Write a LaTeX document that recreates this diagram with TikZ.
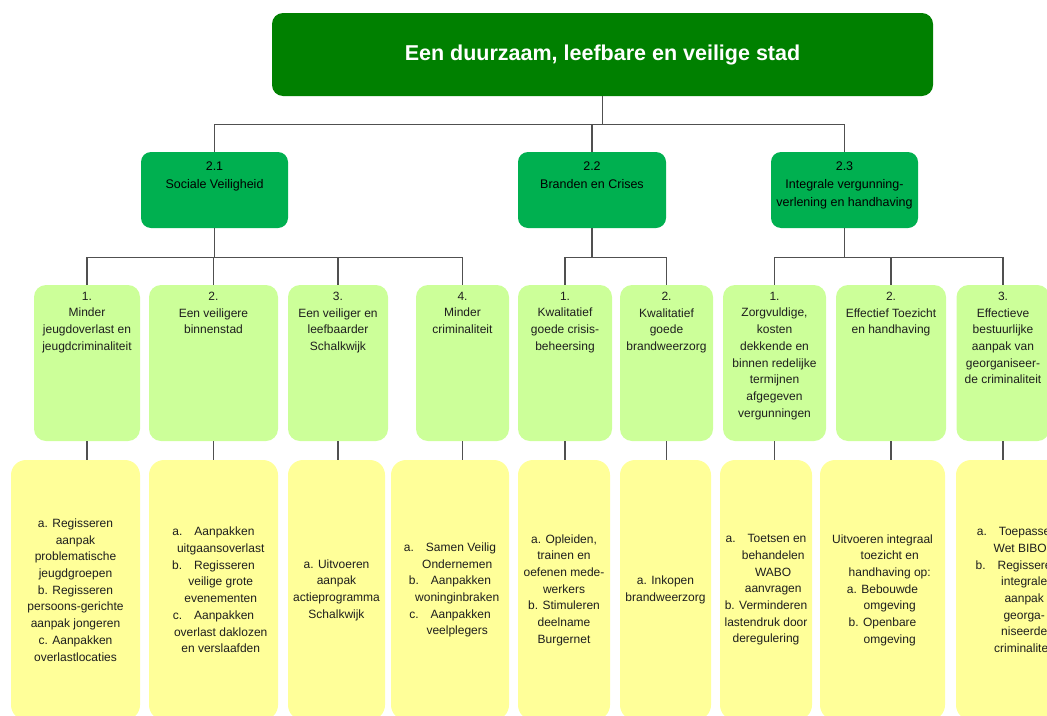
\documentclass[tikz,border=0pt]{standalone}
\usepackage{fontspec}
\setmainfont{Liberation Sans}
\usetikzlibrary{positioning}
\definecolor{topgreen}{HTML}{008000}
\definecolor{midgreen}{HTML}{00B050}
\definecolor{lightgreen}{HTML}{CCFF99}
\definecolor{lightyellow}{HTML}{FFFF99}
\definecolor{linegray}{HTML}{505050}
\definecolor{txtgray}{HTML}{1E1E1E}

\begin{document}
\begin{tikzpicture}[x=1pt,y=-1pt,
  goal/.style={rectangle,rounded corners=11pt,fill=topgreen,text=white,font=\bfseries\fontsize{21.5}{25}\selectfont},
  theme/.style={rectangle,rounded corners=10pt,fill=midgreen,minimum height=76pt},
  target/.style={rectangle,rounded corners=12pt,fill=lightgreen,minimum height=156pt},
  action/.style={rectangle,rounded corners=15pt,fill=lightyellow,minimum height=260pt,inner sep=0pt,
    align=center,text=txtgray,font=\fontsize{12}{16.7}\selectfont},
  txt/.style={inner sep=0pt,align=center,text=txtgray,font=\fontsize{12}{16.7}\selectfont},
  link/.style={draw=linegray,line width=1.4pt}]
\useasboundingbox (0,0) rectangle (1047,715);
\clip (0,0) rectangle (1047,715);

\path (602.5,54.5) node[goal,minimum width=661pt,minimum height=83pt] (top) {Een duurzaam, leefbare en veilige stad};

\path (214.5,190) node[theme,minimum width=147pt] (s21) {};
\path (s21.north) node[below=10pt of s21.north,txt,text=black,font=\fontsize{12.5}{18}\selectfont] (t21) {2.1\\Sociale Veiligheid};
\path (592,190) node[theme,minimum width=148pt] (s22) {};
\path (s22.north) node[below=10pt of s22.north,txt,text=black,font=\fontsize{12.5}{18}\selectfont] (t22) {2.2\\Branden en Crises};
\path (844.5,190) node[theme,minimum width=147pt] (s23) {};
\path (s23.north) node[below=10pt of s23.north,txt,text=black,font=\fontsize{12.5}{18}\selectfont] (t23) {2.3\\Integrale vergunning-\\verlening en handhaving};

\path (87,363) node[target,minimum width=106pt] (d1) {};
\path (d1.north) node[below=7pt of d1.north,txt] (td1) {1.\\Minder\\jeugdoverlast en\\jeugdcriminaliteit};
\path (213.5,363) node[target,minimum width=129pt] (d2) {};
\path (d2.north) node[below=7pt of d2.north,txt] (td2) {2.\\Een veiligere\\binnenstad};
\path (338,363) node[target,minimum width=100pt] (d3) {};
\path (d3.north) node[below=7pt of d3.north,txt] (td3) {3.\\Een veiliger en\\leefbaarder\\Schalkwijk};
\path (462.5,363) node[target,minimum width=93pt] (d4) {};
\path (d4.north) node[below=7pt of d4.north,txt] (td4) {4.\\Minder\\criminaliteit};
\path (565,363) node[target,minimum width=94pt] (k1) {};
\path (k1.north) node[below=7pt of k1.north,txt] (tk1) {1.\\Kwalitatief\\goede crisis-\\beheersing};
\path (666.5,363) node[target,minimum width=93pt] (k2) {};
\path (k2.north) node[below=7pt of k2.north,txt] (tk2) {2.\\Kwalitatief\\goede\\brandweerzorg};
\path (774.5,363) node[target,minimum width=103pt] (v1) {};
\path (v1.north) node[below=7pt of v1.north,txt] (tv1) {1.\\Zorgvuldige,\\kosten\\dekkende en\\binnen redelijke\\termijnen\\afgegeven\\vergunningen};
\path (891,363) node[target,minimum width=110pt] (v2) {};
\path (v2.north) node[below=7pt of v2.north,txt] (tv2) {2.\\Effectief Toezicht\\en handhaving};
\path (1003,363) node[target,minimum width=93pt] (v3) {};
\path (v3.north) node[below=7pt of v3.north,txt] (tv3) {3.\\Effectieve\\bestuurlijke\\aanpak van\\georganiseer-\\de criminaliteit};

\path (75.5,590) node[action,minimum width=129pt] (a1) {a. Regisseren\\aanpak\\problematische\\jeugdgroepen\\b. Regisseren\\persoons-gerichte\\aanpak jongeren\\c. Aanpakken\\overlastlocaties};
\path (213.5,590) node[action,minimum width=129pt] (a2) {a.\quad Aanpakken\\\hspace*{1.2em}uitgaansoverlast\\b.\quad Regisseren\\\hspace*{1.2em}veilige grote\\\hspace*{1.2em}evenementen\\c.\quad Aanpakken\\\hspace*{1.2em}overlast daklozen\\\hspace*{1.2em}en verslaafden};
\path (336.5,590) node[action,minimum width=97pt] (a3) {a. Uitvoeren\\aanpak\\actieprogramma\\Schalkwijk};
\path (450,590) node[action,minimum width=118pt] (a4) {a.\quad Samen Veilig\\\hspace*{1.2em}Ondernemen\\b.\quad Aanpakken\\\hspace*{1.2em}woninginbraken\\c.\quad Aanpakken\\\hspace*{1.2em}veelplegers};
\path (564,590) node[action,minimum width=92pt] (b1) {a. Opleiden,\\trainen en\\oefenen mede-\\werkers\\b. Stimuleren\\deelname\\Burgernet};
\path (665.5,590) node[action,minimum width=91pt] (b2) {a. Inkopen\\brandweerzorg};
\path (766,590) node[action,minimum width=92pt] (c1) {a.\quad Toetsen en\\\hspace*{1.2em}behandelen\\\hspace*{1.2em}WABO\\\hspace*{1.2em}aanvragen\\b. Verminderen\\lastendruk door\\deregulering};
\path (882.5,590) node[action,minimum width=125pt] (c2) {Uitvoeren integraal\\\hspace*{1.2em}toezicht en\\\hspace*{1.2em}handhaving op:\\a. Bebouwde\\\hspace*{1.2em}omgeving\\b. Openbare\\\hspace*{1.2em}omgeving};
\path (1017,590) node[action,minimum width=122pt] (c3) {a.\quad Toepassen\\\hspace*{1.2em}Wet BIBOB\\b.\quad Regisseren\\\hspace*{1.2em}integrale\\\hspace*{1.2em}aanpak\\\hspace*{1.2em}georga-\\\hspace*{1.2em}niseerde\\\hspace*{1.2em}criminaliteit};

\draw[link] (top.south) -- ++(0,28.5) -| (s21.north);
\draw[link] (top.south) -- ++(0,28.5) -| (s22.north);
\draw[link] (top.south) -- ++(0,28.5) -| (s23.north);

\draw[link] (s21.south) -- ++(0,29) -| (d1.north);
\draw[link] (s21.south) -- ++(0,29) -| (d2.north);
\draw[link] (s21.south) -- ++(0,29) -| (d3.north);
\draw[link] (s21.south) -- ++(0,29) -| (d4.north);
\draw[link] (s22.south) -- ++(0,29) -| (k1.north);
\draw[link] (s22.south) -- ++(0,29) -| (k2.north);
\draw[link] (s23.south) -- ++(0,29) -| (v1.north);
\draw[link] (s23.south) -- ++(0,29) -| (v2.north);
\draw[link] (s23.south) -- ++(0,29) -| (v3.north);

\draw[link] (d1.south) -- (d1.south |- a1.north);
\draw[link] (d2.south) -- (d2.south |- a2.north);
\draw[link] (d3.south) -- (d3.south |- a3.north);
\draw[link] (d4.south) -- (d4.south |- a4.north);
\draw[link] (k1.south) -- (k1.south |- b1.north);
\draw[link] (k2.south) -- (k2.south |- b2.north);
\draw[link] (v1.south) -- (v1.south |- c1.north);
\draw[link] (v2.south) -- (v2.south |- c2.north);
\draw[link] (v3.south) -- (v3.south |- c3.north);
\end{tikzpicture}
\end{document}
